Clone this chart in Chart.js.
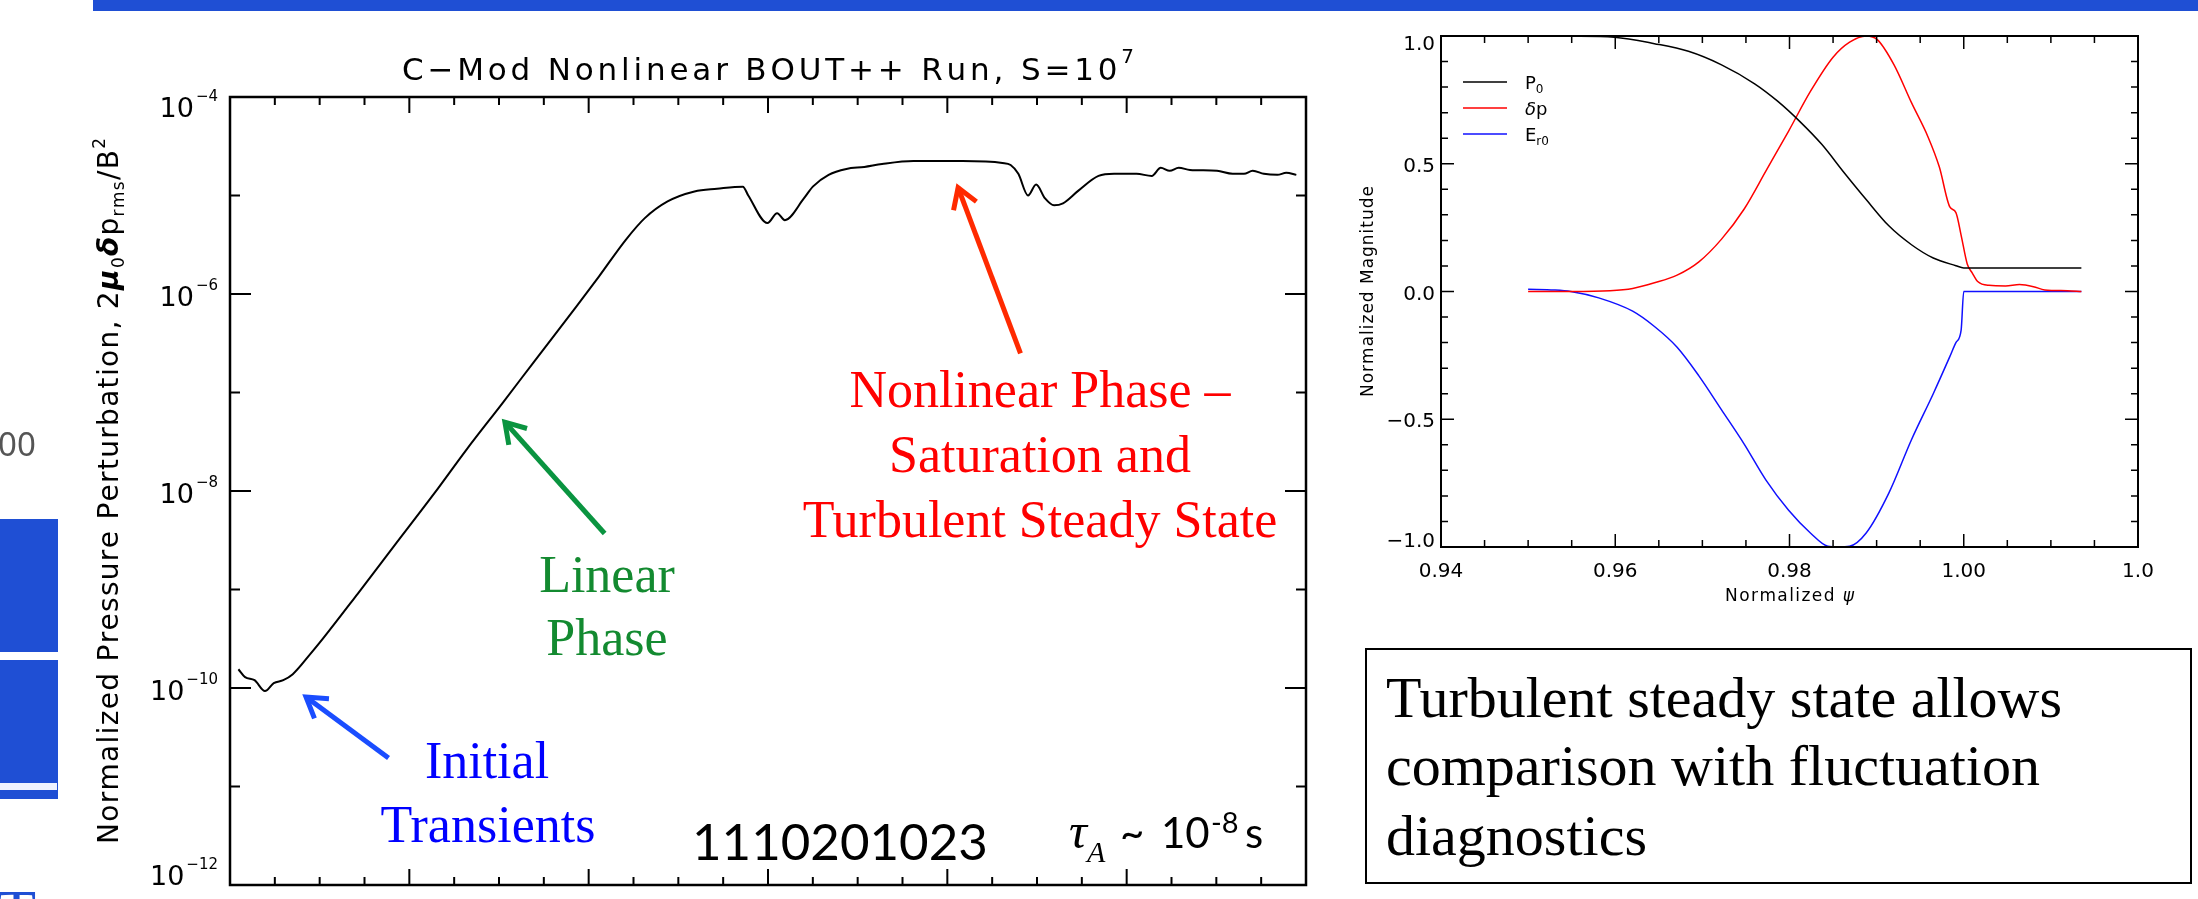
<!DOCTYPE html>
<html>
<head>
<meta charset="utf-8">
<script src="https://cdn.jsdelivr.net/npm/chart.js@4"></script>
<style>
body{margin:0;width:2198px;height:899px;overflow:hidden;background:#fff;position:relative;}
#left{position:absolute;left:0;top:0;}
#right{position:absolute;left:1330px;top:0;}
#over{position:absolute;left:0;top:0;pointer-events:none;}
.ser{font-family:"Liberation Serif","Times New Roman",serif;}
</style>
</head>
<body>
<canvas id="left" width="1330" height="899"></canvas>
<canvas id="right" width="868" height="640"></canvas>
<svg id="over" width="2198" height="899">
  <rect x="93" y="0" width="2105" height="11" fill="#1f4fd4"/>
  <rect x="0" y="519" width="58" height="280" fill="#1f4fd4"/>
  <rect x="0" y="652" width="58" height="8" fill="#fff"/>
  <rect x="0" y="783" width="57" height="7" fill="#eef2ff"/>
  <text x="-2" y="456" font-family="Noto Sans" font-size="33" fill="#555">00</text>
  <text x="-3" y="934" class="ser" font-size="64" fill="#1f4fd4">T</text>

  <g class="ser" font-size="52" text-anchor="middle">
    <text x="487" y="778" fill="#0000ff">Initial</text>
    <text x="488" y="842" fill="#0000ff">Transients</text>
    <text x="607" y="592" fill="#138a30">Linear</text>
    <text x="607" y="655" fill="#138a30">Phase</text>
    <text x="1040" y="407" fill="#ff0000">Nonlinear Phase –</text>
    <text x="1040" y="472" fill="#ff0000">Saturation and</text>
    <text x="1040" y="537" fill="#ff0000">Turbulent Steady State</text>
  </g>
  <text x="692" y="860" font-family="Lato" font-size="51" fill="#000">1110201023</text>
  <text font-family="Lato" font-size="42" fill="#000">
    <tspan x="1069" y="848" class="ser" font-style="italic" font-size="50">τ</tspan>
    <tspan x="1087" y="862" class="ser" font-style="italic" font-size="30">A</tspan>
    <tspan x="1120" y="848">~</tspan>
    <tspan x="1161" y="848">10</tspan>
    <tspan x="1211" y="833" font-size="29">-8</tspan>
    <tspan x="1245" y="848">s</tspan>
  </text>

  <rect x="1366" y="649" width="825" height="234" fill="none" stroke="#000" stroke-width="2"/>
  <g class="ser" font-size="58" fill="#000">
    <text x="1386" y="717">Turbulent steady state allows</text>
    <text x="1386" y="785">comparison with fluctuation</text>
    <text x="1386" y="855">diagnostics</text>
  </g>
</svg>
<script>
// ---- left panel: time history of the pressure perturbation ----
const tMin = 0, tMax = 600, tMajorStep = 100, tMinorStep = 25;
const ampMin = 1e-12, ampMax = 1e-4;
const ampMajor = [1e-12, 1e-10, 1e-8, 1e-6, 1e-4];
const ampMajorExp = ['−12', '−10', '−8', '−6', '−4'];
const ampMinor = [1e-11, 1e-9, 1e-7, 1e-5];

const tA = [4.7,8.4,13.7,19.5,24.4,29.7,35,44.6,50,71.3,92.7,114,132,152.4,169.5,193,205.8,220.7,231.3,244,259,271.6,286,289,299.7,305.1,309.4,320,325,333.8,343.7,353.7,363.6,381.1,408.5,430.7,435.3,439.6,445,449.5,454.5,459.5,464.5,473.1,484.3,493,505.5,514,519,524,529,535.3,550.4,559.1,565.4,570.3,576.5,584,589,594.6];
const amp = [1.55e-10,1.29e-10,1.20e-10,9.3e-11,1.12e-10,1.20e-10,1.38e-10,2.19e-10,2.88e-10,9.1e-10,2.95e-9,9.5e-9,2.65e-8,8.0e-8,2.05e-7,7.4e-7,1.51e-6,3.55e-6,5.89e-6,8.71e-6,1.10e-5,1.17e-5,1.23e-5,1.0e-5,5.25e-6,6.61e-6,5.62e-6,9.33e-6,1.23e-5,1.62e-5,1.86e-5,1.95e-5,2.09e-5,2.24e-5,2.24e-5,2.14e-5,2.04e-5,1.66e-5,1.0e-5,1.29e-5,9.33e-6,7.94e-6,8.32e-6,1.12e-5,1.58e-5,1.66e-5,1.66e-5,1.58e-5,1.91e-5,1.78e-5,1.91e-5,1.82e-5,1.78e-5,1.66e-5,1.66e-5,1.78e-5,1.66e-5,1.62e-5,1.70e-5,1.62e-5];

// annotation arrows, in data coordinates (tail -> head)
const arrowFrom = [[88.4, 1.95e-11], [208.9, 3.7e-9], [440.8, 2.5e-7]];
const arrowTo = [[42.4, 8.1e-11], [153.3, 5.0e-8], [406, 1.2e-5]];
const arrowColor = ['#1a4dff', '#0a9440', '#ff2a00'];

// ---- right panel: radial profiles ----
const psiMin = 0.94, psiMax = 1.02, psiMinorStep = 0.005;
const psiMajor = [0.94, 0.96, 0.98, 1.00, 1.02];
const psiMajorLabels = ['0.94', '0.96', '0.98', '1.00', '1.0'];
const magMin = -1, magMax = 1, magMinorStep = 0.1;
const magMajor = [-1, -0.5, 0, 0.5, 1];
const magMajorLabels = ['−1.0', '−0.5', '0.0', '0.5', '1.0'];

const seriesNames = ['P', 'δp', 'E'];
const seriesSubs = ['0', '', 'r0'];
const seriesColors = ['#000000', '#ff0000', '#1010ff'];

const psiP0 = [0.9500,0.9549,0.9599,0.9645,0.9684,0.9722,0.9760,0.9786,0.9812,0.9837,0.9863,0.9888,0.9914,0.9940,0.9965,0.9991,1.0000,1.0135];
const p0 = [1.0,0.999,0.995,0.97,0.94,0.887,0.813,0.746,0.665,0.576,0.464,0.36,0.257,0.183,0.131,0.101,0.092,0.092];

const psiDp = [0.9500,0.9549,0.9594,0.9620,0.9645,0.9671,0.9696,0.9722,0.9748,0.9773,0.9799,0.9824,0.9850,0.9869,0.9888,0.9901,0.9920,0.9940,0.9959,0.9972,0.9984,0.9991,0.9997,1.0004,1.0010,1.0016,1.0029,1.0048,1.0064,1.0080,1.0093,1.0119,1.0135];
const dp = [0,0,0.003,0.012,0.034,0.064,0.116,0.205,0.323,0.472,0.628,0.783,0.917,0.976,1.0,0.985,0.887,0.739,0.605,0.487,0.331,0.309,0.22,0.108,0.071,0.039,0.024,0.022,0.027,0.019,0.006,0.003,0];

const psiEr = [0.9500,0.9530,0.9549,0.9581,0.9620,0.9645,0.9671,0.9696,0.9722,0.9748,0.9773,0.9799,0.9824,0.9844,0.9856,0.9869,0.9888,0.9914,0.9940,0.9965,0.9984,0.9991,0.9997,1.0000,1.0135];
const er = [0.009,0.006,0,-0.025,-0.077,-0.137,-0.218,-0.33,-0.463,-0.597,-0.738,-0.856,-0.945,-0.997,-1.0,-0.997,-0.945,-0.789,-0.58,-0.40,-0.255,-0.20,-0.151,0,0];

const FONT = '"DejaVu Sans", Arial, sans-serif';

// draw text pieces char by char, spreading them to a given width
function richText(ctx, parts, x, y, width, align){
  let total = 0, n = 0;
  parts.forEach(p=>{
    ctx.font = p.font;
    for (const ch of p.t){ total += ctx.measureText(ch).width; n++; }
  });
  const s = width ? (width - total) / Math.max(n - 1, 1) : 0;
  const full = width || total;
  let cx = align === 'center' ? x - full / 2 : align === 'right' ? x - full : x;
  ctx.textAlign = 'left';
  parts.forEach(p=>{
    ctx.font = p.font;
    for (const ch of p.t){
      ctx.fillText(ch, cx, y + (p.dy || 0));
      cx += ctx.measureText(ch).width + s;
    }
  });
}

function arrow(ctx, x0, y0, x1, y1, color){
  const ang = Math.atan2(y0 - y1, x0 - x1);
  const wing = 23, spread = 0.56;
  ctx.save();
  ctx.strokeStyle = color;
  ctx.lineWidth = 5;
  ctx.beginPath();
  ctx.moveTo(x0, y0); ctx.lineTo(x1, y1);
  ctx.stroke();
  ctx.beginPath();
  ctx.moveTo(x1 + wing * Math.cos(ang + spread), y1 + wing * Math.sin(ang + spread));
  ctx.lineTo(x1, y1);
  ctx.lineTo(x1 + wing * Math.cos(ang - spread), y1 + wing * Math.sin(ang - spread));
  ctx.stroke();
  ctx.restore();
}

const leftFrame = {
  id: 'leftFrame',
  afterDraw(chart){
    const {ctx, chartArea: a, scales: {x, y}} = chart;
    ctx.save();
    ctx.strokeStyle = '#000';
    ctx.fillStyle = '#000';
    ctx.lineWidth = 2.5;
    ctx.strokeRect(a.left, a.top, a.right - a.left, a.bottom - a.top);

    ctx.lineWidth = 2;
    ctx.beginPath();
    for (let i = 0; i <= (tMax - tMin) / tMinorStep; i++){
      const t = tMin + i * tMinorStep;
      const px = x.getPixelForValue(t);
      const len = (t % tMajorStep === 0) ? 16 : 8;
      ctx.moveTo(px, a.bottom); ctx.lineTo(px, a.bottom - len);
      ctx.moveTo(px, a.top); ctx.lineTo(px, a.top + len);
    }
    ampMajor.forEach(v=>{
      const py = y.getPixelForValue(v);
      ctx.moveTo(a.left, py); ctx.lineTo(a.left + 21, py);
      ctx.moveTo(a.right, py); ctx.lineTo(a.right - 21, py);
    });
    ampMinor.forEach(v=>{
      const py = y.getPixelForValue(v);
      ctx.moveTo(a.left, py); ctx.lineTo(a.left + 10, py);
      ctx.moveTo(a.right, py); ctx.lineTo(a.right - 10, py);
    });
    ctx.stroke();

    // y tick labels 10^n
    ampMajor.forEach((v, i)=>{
      const py = y.getPixelForValue(v);
      const base = Math.min(Math.max(py + 12, a.top + 20), a.bottom);
      ctx.textAlign = 'right';
      ctx.font = '15px ' + FONT;
      const ew = ctx.measureText(ampMajorExp[i]).width;
      ctx.fillText(ampMajorExp[i], a.left - 12, base - 16);
      ctx.font = '27px ' + FONT;
      ctx.fillText('10', a.left - 14 - ew, base);
    });

    // title
    richText(ctx, [
      {t: 'C−Mod Nonlinear BOUT++ Run, S=10', font: '31px ' + FONT},
      {t: '7', font: '20px ' + FONT, dy: -17}
    ], (a.left + a.right) / 2, 80, 732, 'center');

    // y axis title
    ctx.save();
    ctx.translate(118, (a.top + a.bottom) / 2);
    ctx.rotate(-Math.PI / 2);
    richText(ctx, [
      {t: 'Normalized Pressure Perturbation, 2', font: '28px ' + FONT},
      {t: 'μ', font: 'italic bold 28px ' + FONT},
      {t: '0', font: '17px ' + FONT, dy: 6},
      {t: 'δ', font: 'italic bold 28px ' + FONT},
      {t: 'p', font: '28px ' + FONT},
      {t: 'rms', font: '17px ' + FONT, dy: 6},
      {t: '/B', font: '28px ' + FONT},
      {t: '2', font: '17px ' + FONT, dy: -13}
    ], 0, 0, 706, 'center');
    ctx.restore();

    // annotation arrows
    arrowFrom.forEach((f, i)=>{
      arrow(ctx, x.getPixelForValue(f[0]), y.getPixelForValue(f[1]),
        x.getPixelForValue(arrowTo[i][0]), y.getPixelForValue(arrowTo[i][1]), arrowColor[i]);
    });
    ctx.restore();
  }
};

const rightFrame = {
  id: 'rightFrame',
  afterDraw(chart){
    const {ctx, chartArea: a, scales: {x, y}} = chart;
    ctx.save();
    ctx.strokeStyle = '#000';
    ctx.fillStyle = '#000';
    ctx.lineWidth = 2;
    ctx.strokeRect(a.left, a.top, a.right - a.left, a.bottom - a.top);

    ctx.lineWidth = 1.5;
    ctx.beginPath();
    const nx = Math.round((psiMax - psiMin) / psiMinorStep);
    for (let i = 0; i <= nx; i++){
      const px = x.getPixelForValue(psiMin + i * psiMinorStep);
      const len = i % 4 === 0 ? 13 : 7;
      ctx.moveTo(px, a.bottom); ctx.lineTo(px, a.bottom - len);
      ctx.moveTo(px, a.top); ctx.lineTo(px, a.top + len);
    }
    const ny = Math.round((magMax - magMin) / magMinorStep);
    for (let i = 0; i <= ny; i++){
      const py = y.getPixelForValue(magMin + i * magMinorStep);
      const len = i % 5 === 0 ? 13 : 7;
      ctx.moveTo(a.left, py); ctx.lineTo(a.left + len, py);
      ctx.moveTo(a.right, py); ctx.lineTo(a.right - len, py);
    }
    ctx.stroke();

    ctx.font = '20px ' + FONT;
    ctx.textAlign = 'center';
    psiMajor.forEach((v, i)=>ctx.fillText(psiMajorLabels[i], x.getPixelForValue(v), a.bottom + 30));
    ctx.textAlign = 'right';
    magMajor.forEach((v, i)=>{
      const py = y.getPixelForValue(v);
      const base = Math.min(Math.max(py + 8, a.top + 14), a.bottom);
      ctx.fillText(magMajorLabels[i], a.left - 6, base);
    });

    richText(ctx, [
      {t: 'Normalized ', font: '17px ' + FONT},
      {t: 'ψ', font: 'italic 17px ' + FONT}
    ], (a.left + a.right) / 2, a.bottom + 54, 129, 'center');

    ctx.save();
    ctx.translate(a.left - 68, (a.top + a.bottom) / 2);
    ctx.rotate(-Math.PI / 2);
    richText(ctx, [{t: 'Normalized Magnitude', font: '17px ' + FONT}], 0, 0, 211, 'center');
    ctx.restore();

    // legend
    seriesNames.forEach((name, i)=>{
      const ly = a.top + 46 + i * 26;
      ctx.strokeStyle = seriesColors[i];
      ctx.lineWidth = 1.5;
      ctx.beginPath();
      ctx.moveTo(a.left + 22, ly); ctx.lineTo(a.left + 66, ly);
      ctx.stroke();
      ctx.fillStyle = '#000';
      ctx.textAlign = 'left';
      if (name === 'δp'){
        ctx.font = 'italic 18px ' + FONT;
        ctx.fillText('δ', a.left + 84, ly + 7);
        const w = ctx.measureText('δ').width;
        ctx.font = '18px ' + FONT;
        ctx.fillText('p', a.left + 84 + w, ly + 7);
      } else {
        ctx.font = '18px ' + FONT;
        ctx.fillText(name, a.left + 84, ly + 7);
        const w = ctx.measureText(name).width;
        ctx.font = '12px ' + FONT;
        ctx.fillText(seriesSubs[i], a.left + 84 + w, ly + 11);
      }
    });
    ctx.restore();
  }
};

const baseOpts = {
  responsive: false,
  animation: false,
  devicePixelRatio: 1,
  events: [],
  plugins: {legend: {display: false}, tooltip: {enabled: false}}
};

new Chart(document.getElementById('left'), {
  type: 'line',
  data: {
    datasets: [{
      data: tA.map((t, i)=>({x: t, y: amp[i]})),
      borderColor: '#000',
      borderWidth: 2,
      pointRadius: 0,
      cubicInterpolationMode: 'monotone'
    }]
  },
  options: Object.assign({}, baseOpts, {
    layout: {padding: {left: 230, right: 24, top: 97, bottom: 14}},
    scales: {
      x: {type: 'linear', min: tMin, max: tMax, display: false},
      y: {type: 'logarithmic', min: ampMin, max: ampMax, display: false}
    }
  }),
  plugins: [leftFrame]
});

const profileSets = [[psiP0, p0], [psiDp, dp], [psiEr, er]];

new Chart(document.getElementById('right'), {
  type: 'line',
  data: {
    datasets: profileSets.map((s, k)=>({
      label: seriesNames[k] + seriesSubs[k],
      data: s[0].map((v, i)=>({x: v, y: s[1][i]})),
      borderColor: seriesColors[k],
      borderWidth: 1.5,
      pointRadius: 0,
      cubicInterpolationMode: 'monotone'
    }))
  },
  options: Object.assign({}, baseOpts, {
    layout: {padding: {left: 111, right: 60, top: 36, bottom: 93}},
    scales: {
      x: {type: 'linear', min: psiMin, max: psiMax, display: false},
      y: {type: 'linear', min: magMin, max: magMax, display: false}
    }
  }),
  plugins: [rightFrame]
});
</script>
</body>
</html>
